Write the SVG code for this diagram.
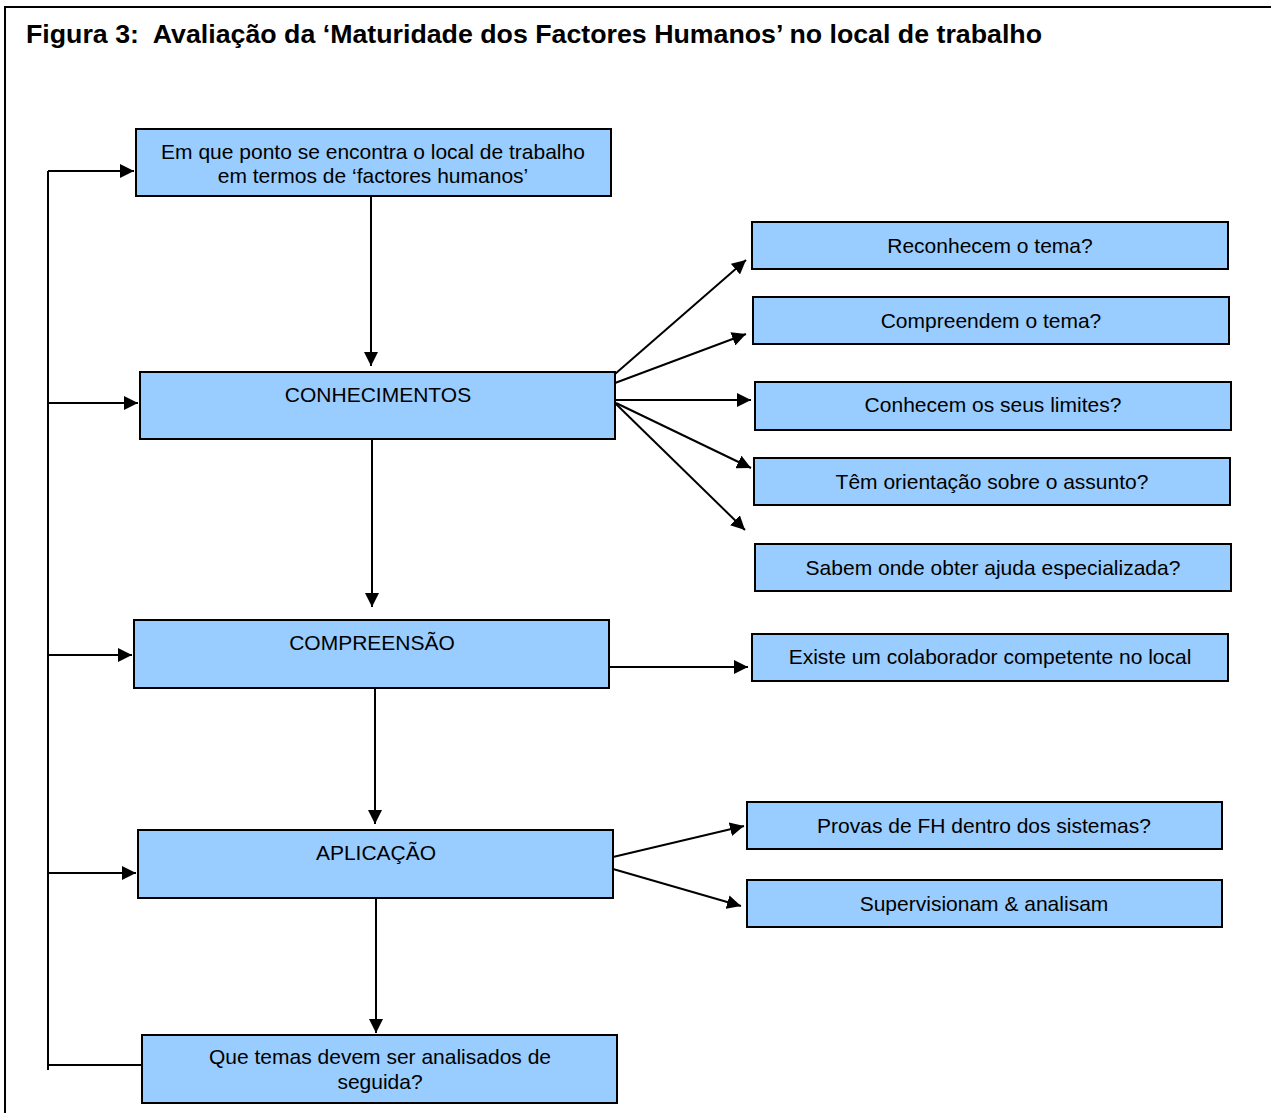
<svg xmlns="http://www.w3.org/2000/svg" width="1271" height="1113" viewBox="0 0 1271 1113">
<style>
.bx{fill:#99ccff;stroke:#000;stroke-width:2}
.t{font-family:"Liberation Sans",Arial,sans-serif;font-size:21px;fill:#000;text-anchor:middle}
.ttl{font-family:"Liberation Sans",Arial,sans-serif;font-size:25px;font-weight:bold;fill:#000}
.ln{stroke:#000;stroke-width:2;fill:none}
</style>
<defs>
<marker id="ah" viewBox="0 0 10 10" refX="10" refY="5" markerWidth="7" markerHeight="7" markerUnits="strokeWidth" orient="auto">
<path d="M0,0 L10,5 L0,10 z" fill="#000"/>
</marker>
</defs>
<rect x="0" y="0" width="1271" height="1113" fill="#fff"/>
<rect x="5" y="7" width="1280" height="1120" fill="none" stroke="#000" stroke-width="2"/>
<text class="ttl" x="26" y="43" xml:space="preserve" textLength="1016" lengthAdjust="spacingAndGlyphs">Figura 3:  Avaliação da ‘Maturidade dos Factores Humanos’ no local de trabalho</text>

<g id="connectors">
<path class="ln" d="M48,171 V1070"/>
<path class="ln" d="M48,171 H134" marker-end="url(#ah)"/>
<path class="ln" d="M48,403 H138" marker-end="url(#ah)"/>
<path class="ln" d="M48,655 H132" marker-end="url(#ah)"/>
<path class="ln" d="M48,873 H136" marker-end="url(#ah)"/>
<path class="ln" d="M48,1065 H142"/>
<path class="ln" d="M371,196 V366" marker-end="url(#ah)"/>
<path class="ln" d="M372,439 V607" marker-end="url(#ah)"/>
<path class="ln" d="M375,686 V824" marker-end="url(#ah)"/>
<path class="ln" d="M376,896 V1033" marker-end="url(#ah)"/>
<path class="ln" d="M615,374 L746,260" marker-end="url(#ah)"/>
<path class="ln" d="M615,383 L746,334" marker-end="url(#ah)"/>
<path class="ln" d="M616,400 L751,400" marker-end="url(#ah)"/>
<path class="ln" d="M616,403 L751,468" marker-end="url(#ah)"/>
<path class="ln" d="M616,404 L745,530" marker-end="url(#ah)"/>
<path class="ln" d="M609,667 L748,667" marker-end="url(#ah)"/>
<path class="ln" d="M613,857 L744,826" marker-end="url(#ah)"/>
<path class="ln" d="M613,869 L741,906" marker-end="url(#ah)"/>
</g>

<g id="n-inicio"><rect class="bx" x="136" y="129" width="475" height="67"/><text class="t" x="373" y="159">Em que ponto se encontra o local de trabalho</text><text class="t" x="373" y="183">em termos de ‘factores humanos’</text></g>
<g id="n-conhecimentos"><rect class="bx" x="140" y="372" width="475" height="67"/><text class="t" x="378" y="402">CONHECIMENTOS</text></g>
<g id="n-compreensao"><rect class="bx" x="134" y="620" width="475" height="68"/><text class="t" x="372" y="650">COMPREENSÃO</text></g>
<g id="n-aplicacao"><rect class="bx" x="138" y="830" width="475" height="68"/><text class="t" x="376" y="860">APLICAÇÃO</text></g>
<g id="n-temas"><rect class="bx" x="142" y="1035" width="475" height="68"/><text class="t" x="380" y="1064">Que temas devem ser analisados de</text><text class="t" x="380" y="1089">seguida?</text></g>

<g id="n-reconhecem"><rect class="bx" x="752" y="222" width="476" height="47"/><text class="t" x="990" y="253">Reconhecem o tema?</text></g>
<g id="n-compreendem"><rect class="bx" x="753" y="297" width="476" height="47"/><text class="t" x="991" y="328">Compreendem o tema?</text></g>
<g id="n-limites"><rect class="bx" x="755" y="382" width="476" height="48"/><text class="t" x="993" y="412">Conhecem os seus limites?</text></g>
<g id="n-orientacao"><rect class="bx" x="754" y="458" width="476" height="47"/><text class="t" x="992" y="489">Têm orientação sobre o assunto?</text></g>
<g id="n-ajuda"><rect class="bx" x="755" y="544" width="476" height="47"/><text class="t" x="993" y="575">Sabem onde obter ajuda especializada?</text></g>
<g id="n-colaborador"><rect class="bx" x="752" y="634" width="476" height="47"/><text class="t" x="990" y="664">Existe um colaborador competente no local</text></g>
<g id="n-provas"><rect class="bx" x="747" y="802" width="475" height="47"/><text class="t" x="984" y="833">Provas de FH dentro dos sistemas?</text></g>
<g id="n-supervisionam"><rect class="bx" x="747" y="880" width="475" height="47"/><text class="t" x="984" y="911">Supervisionam &amp; analisam</text></g>
</svg>
